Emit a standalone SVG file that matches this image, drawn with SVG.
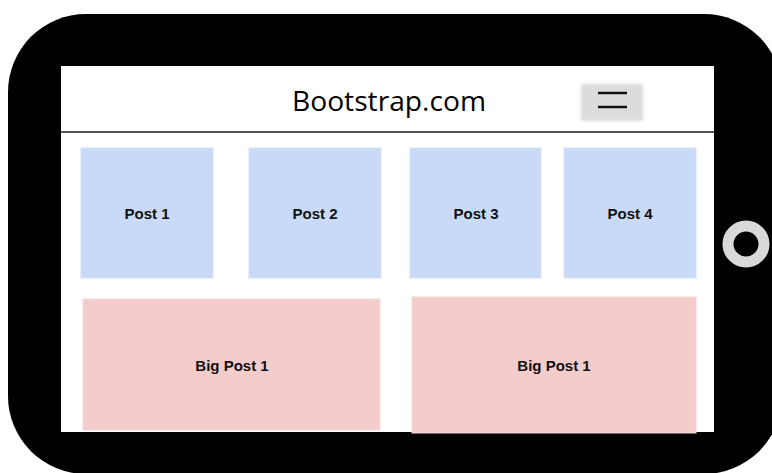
<svg xmlns="http://www.w3.org/2000/svg" width="772" height="473" viewBox="0 0 772 473">
<defs>
<style>
.post{fill:#c9daf8;stroke:#d6e2f7;stroke-width:1}
.big{fill:#f4cccc;stroke:#f6d8d8;stroke-width:1}
.lbl{font-family:"Liberation Sans",Arial,sans-serif;font-weight:bold;font-size:15px;fill:#111;text-anchor:middle}
</style>
<filter id="blur" x="-20%" y="-20%" width="140%" height="140%"><feGaussianBlur stdDeviation="1.5"/></filter>
</defs>
<rect width="772" height="473" fill="#fff"/>
<g id="phone">
<rect x="8" y="14" width="774" height="460" rx="78" ry="78" fill="#000"/>
<circle cx="746" cy="244" r="18" fill="none" stroke="#d9d9d9" stroke-width="11"/>
</g>
<g id="screen">
<rect x="61" y="66" width="653" height="366" fill="#fff"/>
<line x1="61" y1="132" x2="714" y2="132" stroke="#555" stroke-width="2"/>
<text x="389" y="111" font-family="'Open Sans','DejaVu Sans',sans-serif" font-size="27" fill="#000" text-anchor="middle" textLength="194" lengthAdjust="spacingAndGlyphs">Bootstrap.com</text>
</g>
<g id="menu">
<rect x="581" y="84" width="62" height="37" fill="#dcdcdc" filter="url(#blur)"/>
<line x1="598" y1="93" x2="627" y2="93" stroke="#111" stroke-width="2.5"/>
<line x1="598" y1="107" x2="627" y2="107" stroke="#111" stroke-width="2.5"/>
</g>
<g id="post1"><rect class="post" x="81" y="148" width="132" height="130"/><text class="lbl" x="147" y="219">Post 1</text></g>
<g id="post2"><rect class="post" x="249" y="148" width="132" height="130"/><text class="lbl" x="315" y="219">Post 2</text></g>
<g id="post3"><rect class="post" x="410" y="148" width="131" height="130"/><text class="lbl" x="476" y="219">Post 3</text></g>
<g id="post4"><rect class="post" x="564" y="148" width="132" height="130"/><text class="lbl" x="630" y="219">Post 4</text></g>
<g id="bigpost1"><rect class="big" x="83" y="299" width="297" height="131"/><text class="lbl" x="232" y="371">Big Post 1</text></g>
<g id="bigpost2"><rect class="big" x="412" y="297" width="284" height="136"/><text class="lbl" x="554" y="371">Big Post 1</text></g>
<g id="connectors"/>
</svg>
